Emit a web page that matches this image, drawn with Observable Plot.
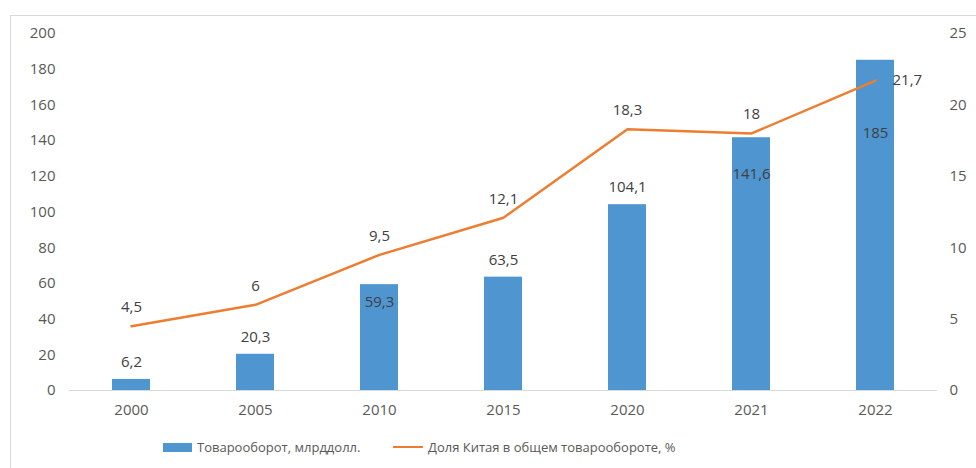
<!DOCTYPE html>
<html><head><meta charset="utf-8">
<script src="https://cdn.jsdelivr.net/npm/d3@7"></script>
<script src="https://cdn.jsdelivr.net/npm/@observablehq/plot@0.6"></script>
<style>
body{margin:0;background:#fff;font-family:"Open Sans",sans-serif;}
#wrap{position:relative;width:976px;height:468px;overflow:hidden;}
#frame{position:absolute;left:10px;top:15px;width:1000px;height:500px;border:1px solid #d9d9d9;box-sizing:border-box;pointer-events:none;}
#chart{position:relative;}
#legend{position:relative;height:20px;margin-top:12px;font-size:13px;color:#595959;line-height:20px;}
.item{position:absolute;top:0;display:flex;align-items:center;}
.sw{display:inline-block;margin-right:5px;}
</style></head>
<body>
<div id="wrap">
<div id="frame"></div>
<div id="chart"></div>
<div id="legend">
  <div class="item" style="left:163px"><span class="sw" style="width:29px;height:9px;background:#4F95D0"></span>Товарооборот, млрддолл.</div>
  <div class="item" style="left:393px"><span class="sw" style="width:30px;height:2.5px;background:#ED7D31"></span>Доля Китая в общем товарообороте, %</div>
</div>
</div>
<script>
const years = ["2000","2005","2010","2015","2020","2021","2022"];
const turnover = [6.2, 20.3, 59.3, 63.5, 104.1, 141.6, 185];
const share = [4.5, 6, 9.5, 12.1, 18.3, 18, 21.7];
const leftTicks = [0, 20, 40, 60, 80, 100, 120, 140, 160, 180, 200];
const rightTicks = [0, 5, 10, 15, 20, 25];

const k = 200 / 25;
const data = years.map((y, i) => ({year: y, t: turnover[i], s: share[i], s8: share[i] * k}));
const fmt = v => String(v).replace(".", ",");
const labelStyle = {fill: "#404040", fontSize: 15};
const inside = {"2010": 18, "2021": 36, "2022": 73};

const chart = Plot.plot({
  width: 976, height: 425,
  marginLeft: 69, marginRight: 39, marginTop: 33, marginBottom: 35,
  style: {fontFamily: "Open Sans", fontSize: "15px", color: "#595959", background: "transparent"},
  x: {domain: years, paddingInner: 0.69, paddingOuter: 0.345, label: null},
  y: {domain: [0, 200], label: null},
  marks: [
    Plot.axisY(leftTicks, {anchor: "left", tickSize: 0, tickPadding: 14, label: null, fontSize: 15}),
    Plot.axisY(rightTicks.map(d => d * k), {anchor: "right", tickSize: 0, tickPadding: 12, tickFormat: d => d / k, label: null, fontSize: 15}),
    Plot.axisX({tickSize: 0, tickPadding: 14, label: null, fontSize: 15}),
    Plot.barY(data, {x: "year", y: "t", fill: "#4F95D0"}),
    Plot.ruleY([0], {stroke: "#d9d9d9"}),
    Plot.line(data, {x: "year", y: "s8", stroke: "#ED7D31", strokeWidth: 2.5}),
    Plot.text(data.filter(d => !(d.year in inside)), {x: "year", y: "t", text: d => fmt(d.t), dy: -17, ...labelStyle}),
    ...Object.entries(inside).map(([yr, off]) =>
      Plot.text(data.filter(d => d.year === yr), {x: "year", y: "t", text: d => fmt(d.t), dy: off, ...labelStyle})),
    Plot.text(data.filter(d => d.year !== "2022"), {x: "year", y: "s8", text: d => fmt(d.s), dy: -19, ...labelStyle}),
    Plot.text(data.filter(d => d.year === "2022"), {x: "year", y: "s8", text: d => fmt(d.s), dx: 17, textAnchor: "start", ...labelStyle})
  ]
});
document.getElementById("chart").appendChild(chart);
</script>
</body></html>
